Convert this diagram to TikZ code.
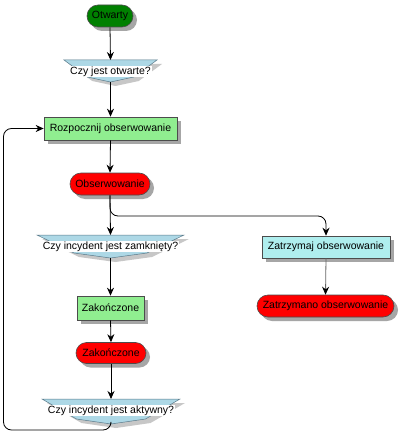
\documentclass[tikz,border=0pt]{standalone}
\usepackage{fontspec}
\setmainfont{Liberation Sans}
\usetikzlibrary{arrows.meta,shadows,shapes.misc}
\definecolor{dgreen}{HTML}{008000}
\definecolor{lgreen}{HTML}{90EE90}
\definecolor{lcyan}{HTML}{AFEEEE}
\definecolor{lblue}{HTML}{ADD8E6}
\definecolor{dblue}{HTML}{5A7A8A}
\begin{document}
\begin{tikzpicture}[x=1pt,y=-1pt,
  font=\fontsize{10.5}{12}\selectfont,
  arr/.style={-{Stealth[length=8pt,width=7pt,color=black]}, line width=0.8pt, draw=black},
  shad/.style={drop shadow={shadow xshift=4pt,shadow yshift=-4pt,fill=black!35,opacity=1}},
  box/.style={rectangle, draw=black!70, line width=0.6pt, inner sep=0pt, shad},
  term/.style={rounded rectangle, draw=black!70, line width=0.6pt, inner sep=0pt, shad},
  dshape/.style={fill=lblue, draw=dblue, line width=0.5pt},
  dshadow/.style={fill=black!22},
  dtext/.style={fill=white, inner sep=1pt}]
\fill[white] (0,0) rectangle (402,433);
\useasboundingbox (0,0) rectangle (402,433);

% Terminals and boxes
\node[term, fill=dgreen, minimum width=46pt, minimum height=22pt] (otw) at (110,16) {Otwarty};
\node[box, fill=lgreen, minimum width=133pt, minimum height=23pt] (roz) at (110.5,128.5) {Rozpocznij obserwowanie};
\node[term, fill=red, minimum width=80pt, minimum height=22pt] (obs) at (110,184) {Obserwowanie};
\node[box, fill=lgreen, minimum width=67pt, minimum height=24pt] (zak1) at (110.5,308) {Zakończone};
\node[term, fill=red, minimum width=70pt, minimum height=21pt] (zak2) at (111,353) {Zakończone};
\node[box, fill=lcyan, minimum width=128pt, minimum height=22pt] (zat) at (326,247) {Zatrzymaj obserwowanie};
\node[term, fill=red, minimum width=137pt, minimum height=22pt] (zatm) at (325.5,306) {Zatrzymano obserwowanie};

% Decision 1
\fill[dshadow] (69,64) -- (162,64) -- (138.75,81) -- (115.5,86) -- (92.25,81) -- cycle;
\draw[dshape] (64,60) -- (157,60) -- (133.75,77) -- (110.5,82) -- (87.25,77) -- cycle;
\node[dtext] (d1) at (110.5,71.5) {Czy jest otwarte?};
\coordinate (d1t) at (110.5,60);
\coordinate (d1b) at (110.5,82);

% Decision 2
\fill[dshadow] (42,239) -- (189,239) -- (152,257) -- (115.5,262) -- (79,257) -- cycle;
\draw[dshape] (37,235) -- (184,235) -- (147,253) -- (110.5,258) -- (74,253) -- cycle;
\node[dtext] (d2) at (110.5,246.5) {Czy incydent jest zamknięty?};
\coordinate (d2t) at (110.5,235);
\coordinate (d2b) at (110.5,258);

% Decision 3
\fill[dshadow] (47,403) -- (185,403) -- (150.5,423) -- (116,428) -- (81.5,423) -- cycle;
\draw[dshape] (42,399) -- (180,399) -- (145.5,419) -- (111,424) -- (76.5,419) -- cycle;
\node[dtext] (d3) at (111,410.5) {Czy incydent jest aktywny?};
\coordinate (d3t) at (111,399);
\coordinate (d3b) at (111,424);

% Connectors
\draw[arr] (otw.south) -- (d1t);
\draw[arr] (d1b) -- (roz.north);
\draw[arr] (roz.south) -- (obs.north);
\draw[arr] (obs.south) -- (d2t);
\draw[arr, rounded corners=8pt] (obs.south) |- (zat.north |- 0,216) -- (zat.north);
\draw[arr] (d2b) -- (zak1.north);
\draw[arr] (zak1.south) -- (zak2.north);
\draw[arr] (zak2.south) -- (d3t);
\draw[arr, draw=black!60] (zat.south) -- (zatm.north);
\draw[arr, rounded corners=8pt] (d3b) |- (3.5,430) |- (roz.west);
\end{tikzpicture}
\end{document}
